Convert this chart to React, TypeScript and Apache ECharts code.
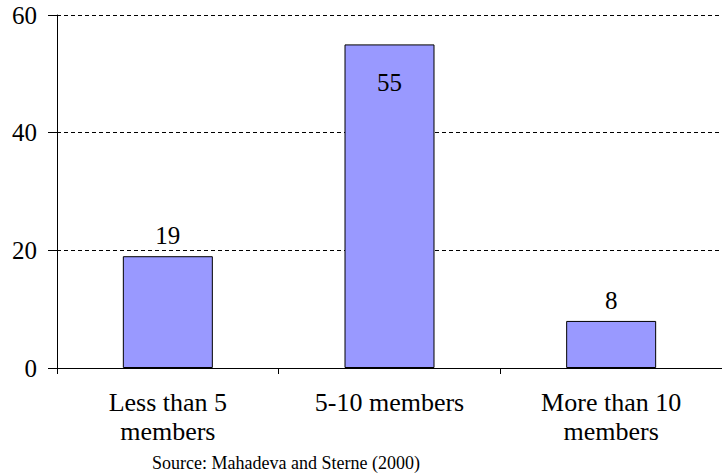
import React, { useEffect, useRef } from "react";
import * as echarts from "echarts";

const categories = ["Less than 5\nmembers", "5-10 members", "More than 10\nmembers"];
const values = [19, 55, 8];
const yTicks = { min: 0, max: 60, interval: 20 };
const sourceNote = "Source: Mahadeva and Sterne (2000)";

const FONT = "Liberation Serif";

export default function App() {
  const ref = useRef<HTMLDivElement>(null);

  useEffect(() => {
    if (!ref.current) return;
    const chart = echarts.init(ref.current, null, { renderer: "svg" });

    // the tallest bar carries its value inside, just under its top edge
    const data = values.map((v) =>
      v > 50
        ? { value: v, label: { position: "insideTop" as const, distance: 26 } }
        : { value: v }
    );

    chart.setOption({
      animation: false,
      backgroundColor: "#ffffff",
      textStyle: { fontFamily: FONT, color: "#000" },
      grid: { left: 57, right: -9, top: 15, bottom: 106 },
      xAxis: {
        type: "category",
        data: categories,
        axisLine: { lineStyle: { color: "#000", width: 1 } },
        axisTick: { show: true, length: 6, lineStyle: { color: "#000" } },
        axisLabel: {
          color: "#000",
          fontFamily: FONT,
          fontSize: 26,
          lineHeight: 29,
          margin: 20,
          interval: 0,
        },
      },
      yAxis: {
        type: "value",
        min: yTicks.min,
        max: yTicks.max,
        interval: yTicks.interval,
        axisLine: { show: true, lineStyle: { color: "#000", width: 1 } },
        axisTick: { show: true, length: 9, lineStyle: { color: "#000" } },
        axisLabel: { color: "#000", fontFamily: FONT, fontSize: 25, margin: 20 },
        splitLine: { lineStyle: { color: "#000", type: [4, 3], width: 1 } },
      },
      series: [
        {
          type: "bar",
          data,
          barWidth: 90,
          itemStyle: { color: "#9999ff", borderColor: "#000", borderWidth: 1 },
          label: {
            show: true,
            position: "top",
            distance: 8,
            color: "#000",
            fontFamily: FONT,
            fontSize: 25,
          },
        },
      ],
      graphic: [
        {
          type: "text",
          x: 286,
          y: 454,
          style: {
            text: sourceNote,
            fontFamily: FONT,
            fontSize: 18,
            fill: "#000",
            textAlign: "center",
          },
        },
      ],
    });

    return () => chart.dispose();
  }, []);

  return (
    <div
      ref={ref}
      style={{ position: "fixed", left: 0, top: 0, width: 722, height: 474 }}
    />
  );
}
